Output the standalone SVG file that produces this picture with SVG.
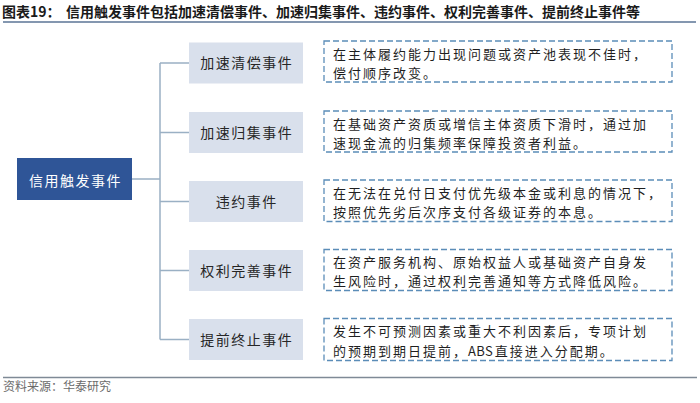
<svg xmlns="http://www.w3.org/2000/svg" width="700" height="403" viewBox="0 0 700 403">
<style>
text{font-family:"Noto Sans CJK SC","Noto Sans",sans-serif;}
.title{font-size:14px;font-weight:bold;fill:#1a1a1a;}
.root{fill:#2F5597;}
.rootText{font-size:14px;fill:#ffffff;letter-spacing:1.5px;text-anchor:middle;}
.child{fill:#D9E0EC;}
.childText{font-size:14px;fill:#262626;letter-spacing:1.5px;text-anchor:middle;}
.desc{fill:#ffffff;stroke:#5B8DB8;stroke-width:1.3;stroke-dasharray:6 3;}
.descText{font-size:13px;fill:#1f1f1f;letter-spacing:2px;}
.latin{letter-spacing:0.3px;}
.conn{stroke:#9AB0C4;stroke-width:1.5;fill:none;}
.rule{stroke:#8497B0;stroke-width:2;}
.src{font-size:12px;fill:#6b6b6b;}
</style>
<g id="header">
<text class="title" x="2" y="17">图表19：</text>
<text class="title" x="66" y="17">信用触发事件包括加速清偿事件、加速归集事件、违约事件、权利完善事件、提前终止事件等</text>
<line class="rule" x1="3" y1="22" x2="696" y2="22"/>
</g>
<g id="connectors">
<path class="conn" d="M132 179 H160 M160 63 V339.5 M160 63 H189 M160 132.5 H189 M160 201.5 H189 M160 270.5 H189 M160 339.5 H189"/>
</g>
<g id="root">
<rect class="root" x="17" y="158" width="115" height="42"/>
<text class="rootText" x="75.5" y="186">信用触发事件</text>
</g>
<g id="n1">
<rect class="child" x="189" y="42.5" width="114" height="41"/>
<text class="childText" x="246.8" y="68">加速清偿事件</text>
</g>
<g id="n2">
<rect class="child" x="189" y="112" width="114" height="41"/>
<text class="childText" x="246.8" y="137.5">加速归集事件</text>
</g>
<g id="n3">
<rect class="child" x="189" y="181" width="114" height="41"/>
<text class="childText" x="246.8" y="206.5">违约事件</text>
</g>
<g id="n4">
<rect class="child" x="189" y="250" width="114" height="41"/>
<text class="childText" x="246.8" y="275.5">权利完善事件</text>
</g>
<g id="n5">
<rect class="child" x="189" y="319" width="114" height="41"/>
<text class="childText" x="246.8" y="344.5">提前终止事件</text>
</g>
<g id="d1">
<rect class="desc" x="324" y="41" width="348" height="41"/>
<text class="descText" x="333" y="58.5">在主体履约能力出现问题或资产池表现不佳时，</text>
<text class="descText" x="333" y="77.5">偿付顺序改变。</text>
</g>
<g id="d2">
<rect class="desc" x="324" y="111" width="348" height="41"/>
<text class="descText" x="333" y="128.5">在基础资产资质或增信主体资质下滑时，通过加</text>
<text class="descText" x="333" y="147.5">速现金流的归集频率保障投资者利益。</text>
</g>
<g id="d3">
<rect class="desc" x="324" y="180" width="348" height="41.5"/>
<text class="descText" x="333" y="197.5">在无法在兑付日支付优先级本金或利息的情况下，</text>
<text class="descText" x="333" y="216.5">按照优先劣后次序支付各级证券的本息。</text>
</g>
<g id="d4">
<rect class="desc" x="324" y="249.5" width="348" height="41"/>
<text class="descText" x="333" y="267">在资产服务机构、原始权益人或基础资产自身发</text>
<text class="descText" x="333" y="286">生风险时，通过权利完善通知等方式降低风险。</text>
</g>
<g id="d5">
<rect class="desc" x="324" y="318.5" width="348" height="42"/>
<text class="descText" x="333" y="336">发生不可预测因素或重大不利因素后，专项计划</text>
<text class="descText" x="333" y="355.5">的预期到期日提前，<tspan class="latin">AB</tspan>S直接进入分配期。</text>
</g>
<g id="footer">
<line x1="3" y1="377.5" x2="697" y2="377.5" stroke="#7F8A96" stroke-width="1.5"/>
<text class="src" x="3" y="391">资料来源：华泰研究</text>
</g>
</svg>
